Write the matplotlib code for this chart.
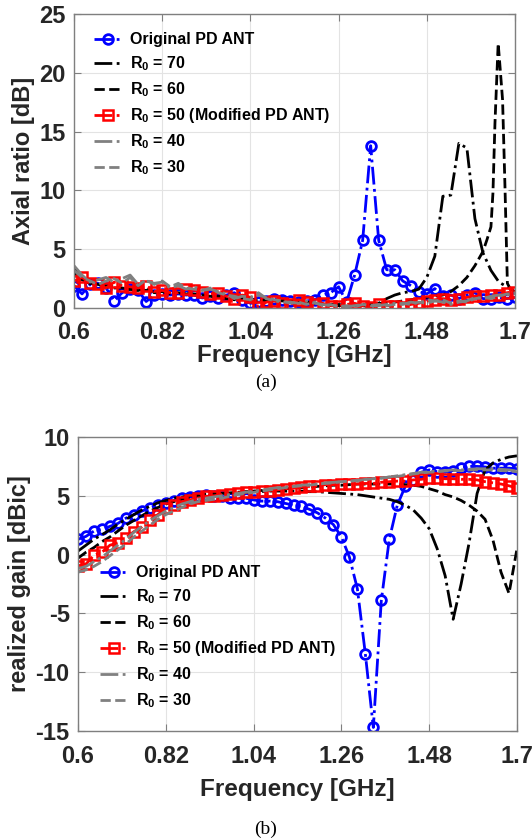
import matplotlib
matplotlib.use("Agg")
import matplotlib.pyplot as plt
import numpy as np

plt.rcParams['font.family'] = 'Liberation Sans'
plt.rcParams['font.weight'] = 'bold'
plt.rcParams['mathtext.fontset'] = 'custom'
plt.rcParams['mathtext.rm'] = 'Liberation Sans:bold'
plt.rcParams['mathtext.bf'] = 'Liberation Sans:bold'
plt.rcParams['axes.unicode_minus'] = False

# frequency grid [GHz], 0.02 GHz step
freq = np.round(np.arange(0.6, 1.701, 0.02), 2)
# R0 = 60 axial ratio has a sharp peak, sampled finer near the top
freq_r60_ar = np.concatenate([np.round(np.arange(0.6, 1.63, 0.02), 2),
                              [1.63, 1.64, 1.645, 1.65, 1.658, 1.662, 1.669, 1.675, 1.681, 1.69, 1.70]])

xticks = [0.6, 0.82, 1.04, 1.26, 1.48, 1.7]
xtick_labels = ['0.6', '0.82', '1.04', '1.26', '1.48', '1.7']

labels = ['Original PD ANT', r'$\mathbf{R_0}$ = 70', r'$\mathbf{R_0}$ = 60',
          r'$\mathbf{R_0}$ = 50 (Modified PD ANT)', r'$\mathbf{R_0}$ = 40', r'$\mathbf{R_0}$ = 30']

# (a) axial ratio [dB]
ar_orig = [1.9, 1.2, 2.0, 2.1, 1.7, 0.6, 1.3, 1.6, 1.5, 0.55,
           1.1, 1.2, 1.1, 1.2, 1.1, 1.1, 0.85, 1.0, 0.85, 1.1,
           1.3, 0.7, 0.4, 0.5, 0.6, 0.8, 0.7, 0.6, 0.5, 0.6,
           0.7, 1.1, 1.3, 1.8, 0.5, 2.8, 5.75, 13.8, 5.75, 3.25,
           3.25, 2.3, 1.9, 1.4, 1.2, 1.65, 1.0, 1.1, 0.8, 1.1,
           1.3, 0.8, 0.8, 0.9, 0.8, 0.9]
ar_r70 = [3.5, 2.4, 2.1, 2.0, 1.9, 1.8, 1.7, 1.6, 1.5, 1.6,
          1.3, 1.4, 1.2, 1.3, 1.2, 1.1, 1.2, 1.0, 0.9, 0.8,
          0.7, 0.8, 0.7, 0.6, 0.7, 0.6, 0.8, 0.6, 0.5, 0.5,
          0.4, 0.4, 0.3, 0.3, 0.2, 0.2, 0.2, 0.1, 0.4, 0.8,
          1.1, 1.3, 1.4, 1.6, 2.6, 4.4, 9.5, 9.6, 14.0, 13.6,
          7.6, 4.7, 3.2, 2.2, 1.8, 1.4]
ar_r60 = [3.0, 2.3, 2.1, 2.0, 1.8, 1.7, 1.7, 1.6, 1.5, 1.5,
          1.4, 1.4, 1.3, 1.3, 1.2, 1.2, 1.1, 1.0, 1.0, 0.9,
          0.8, 0.8, 0.7, 0.7, 0.6, 0.6, 0.6, 0.5, 0.5, 0.4,
          0.4, 0.3, 0.3, 0.2, 0.2, 0.2, 0.3, 0.3, 0.4, 0.4,
          0.5, 0.6, 0.7, 0.8, 0.9, 1.0, 1.1, 1.4, 1.9, 2.6,
          3.6, 4.8,
          5.8, 6.9, 9.8, 15.7, 22.5, 20.8, 17.7, 10.3, 2.1, 1.5, 1.4]
ar_r50 = [2.3, 2.6, 2.1, 2.0, 1.7, 2.2, 1.9, 1.8, 1.7, 1.9,
          1.4, 1.5, 1.3, 1.3, 1.6, 1.5, 1.4, 1.2, 1.3, 1.0,
          0.8, 1.1, 0.9, 0.1, 0.5, 0.6, 0.4, 0.3, 0.7, 0.5,
          0.3, 0.4, 0.2, 0.2, 0.3, 0.4, 0.2, 0.1, 0.3, 0.2,
          0.2, 0.1, 0.3, 0.4, 0.6, 0.7, 0.8, 0.7, 0.8, 0.9,
          1.0, 1.0, 1.1, 1.1, 1.3, 1.4]
ar_r40 = [3.6, 2.8, 2.2, 2.4, 2.6, 2.2, 2.5, 2.8, 2.0, 2.3,
          2.1, 2.2, 1.7, 1.9, 1.6, 1.8, 1.5, 1.6, 1.4, 1.2,
          0.8, 1.0, 0.9, 1.3, 0.8, 0.6, 0.5, 0.5, 0.4, 0.6,
          0.4, 0.3, 0.2, 0.2, 0.1, 0.2, 0.3, 0.2, 0.2, 0.3,
          0.4, 0.3, 0.5, 0.4, 0.7, 0.6, 0.5, 0.3, 0.5, 0.6,
          0.9, 0.8, 1.0, 1.1, 1.1, 1.3]
ar_r30 = [3.2, 2.6, 2.3, 2.0, 2.3, 2.5, 2.1, 2.6, 1.9, 2.4,
          2.0, 2.3, 1.8, 2.1, 1.7, 1.6, 1.5, 1.7, 1.3, 1.1,
          1.0, 0.8, 0.7, 1.1, 0.9, 0.7, 0.6, 0.4, 0.5, 0.3,
          0.5, 0.2, 0.3, 0.1, 0.2, 0.1, 0.3, 0.2, 0.3, 0.2,
          0.3, 0.4, 0.3, 0.5, 0.4, 0.6, 0.7, 0.4, 0.6, 0.5,
          0.8, 0.9, 0.8, 1.0, 1.2, 1.2]

# (b) realized gain [dBic]
g_orig = [1.3, 1.55, 2.0, 2.15, 2.4, 2.65, 3.1, 3.4, 3.7, 3.95,
          4.2, 4.4, 4.6, 4.8, 4.9, 5.0, 5.05, 5.0, 4.95, 4.85,
          4.8, 4.8, 4.65, 4.55, 4.55, 4.5, 4.35, 4.2, 4.1, 3.85,
          3.55, 3.1, 2.55, 1.5, -0.2, -2.9, -8.45, -14.7, -3.9, 1.3,
          4.2, 5.8, 6.35, 7.0, 7.2, 7.05, 7.0, 7.15, 7.4, 7.5,
          7.5, 7.45, 7.35, 7.35, 7.35, 7.3]
g_r70 = [0.3, 0.8, 1.3, 1.7, 2.1, 2.6, 3.0, 3.4, 3.8, 4.1,
         4.4, 4.6, 4.8, 4.9, 5.0, 5.1, 5.15, 5.2, 5.2, 5.25,
         5.3, 5.3, 5.35, 5.35, 5.4, 5.4, 5.4, 5.4, 5.4, 5.35,
         5.35, 5.3, 5.25, 5.2, 5.15, 5.1, 5.0, 4.9, 4.8, 4.7,
         4.5, 4.2, 3.8, 3.1, 2.2, 0.5, -1.8, -5.5, -2.5, 1.0,
         5.2, 7.2, 7.8, 8.1, 8.3, 8.4]
g_r60 = [-0.3, 0.2, 0.6, 1.1, 1.5, 2.0, 2.5, 2.9, 3.3, 3.7,
         4.0, 4.3, 4.5, 4.7, 4.85, 5.0, 5.05, 5.1, 5.2, 5.25,
         5.3, 5.35, 5.4, 5.45, 5.5, 5.55, 5.6, 5.65, 5.7, 5.75,
         5.8, 5.85, 5.9, 5.9, 5.95, 6.0, 6.0, 6.0, 6.0, 6.0,
         6.0, 5.95, 5.9, 5.8, 5.6, 5.4, 5.1, 4.9, 4.6, 4.2,
         3.7, 3.0, 1.2, -1.5, -3.3, 0.5]
g_r50 = [-0.95, -0.8, -0.05, 0.2, 0.8, 1.0, 1.45, 1.95, 2.35, 2.95,
         3.4, 3.95, 4.2, 4.5, 4.65, 4.8, 4.95, 5.0, 5.1, 5.15,
         5.25, 5.3, 5.35, 5.4, 5.45, 5.5, 5.6, 5.65, 5.75, 5.8,
         5.85, 5.95, 5.95, 6.0, 6.0, 6.0, 6.05, 6.05, 6.15, 6.2,
         6.25, 6.25, 6.35, 6.4, 6.5, 6.5, 6.45, 6.45, 6.4, 6.4,
         6.35, 6.2, 6.1, 6.0, 5.85, 5.65]
g_r40 = [-1.2, -1.0, -0.6, -0.2, 0.3, 0.8, 1.3, 1.9, 2.4, 2.9,
         3.3, 3.7, 4.0, 4.3, 4.5, 4.7, 4.8, 4.9, 5.0, 5.1,
         5.2, 5.3, 5.4, 5.5, 5.6, 5.7, 5.75, 5.8, 5.9, 5.95,
         6.0, 6.1, 6.15, 6.2, 6.25, 6.3, 6.4, 6.45, 6.5, 6.6,
         6.7, 6.8, 6.9, 7.0, 7.05, 7.1, 7.15, 7.2, 7.2, 7.25,
         7.3, 7.3, 7.3, 7.25, 7.2, 7.1]
g_r30 = [-1.5, -1.3, -1.0, -0.6, -0.1, 0.4, 0.9, 1.5, 2.0, 2.5,
         3.0, 3.4, 3.7, 4.0, 4.3, 4.5, 4.6, 4.7, 4.8, 4.95,
         5.1, 5.2, 5.3, 5.4, 5.5, 5.6, 5.7, 5.8, 5.85, 5.9,
         6.0, 6.05, 6.1, 6.2, 6.25, 6.3, 6.4, 6.45, 6.5, 6.6,
         6.65, 6.75, 6.85, 6.95, 7.0, 7.05, 7.1, 7.15, 7.15, 7.2,
         7.2, 7.2, 7.2, 7.15, 7.1, 7.05]

GRAY = '#808080'
TICK_COLOR = '#262626'


def draw(ax, curves, ylim, yticks, ylabel, leg_anchor, xpad, xlabelpad):
    (orig, r70, r60, r50, r40, r30), f60 = curves
    ax.plot(freq, orig, '-.', color='blue', lw=2, marker='o', ms=7,
            mfc='none', mew=2, label=labels[0])
    ax.plot(freq, r70, '-.', color='black', lw=2, label=labels[1])
    ax.plot(f60, r60, '--', color='black', lw=2, label=labels[2])
    ax.plot(freq, r50, '-.', color='red', lw=2, marker='s', ms=6.5,
            mfc='none', mew=1.8, label=labels[3])
    ax.plot(freq, r40, '-.', color=GRAY, lw=2, label=labels[4])
    ax.plot(freq, r30, '--', color=GRAY, lw=2, label=labels[5])

    ax.set_xlim(0.6, 1.7)
    ax.set_ylim(*ylim)
    ax.set_xticks(xticks)
    ax.set_xticklabels(xtick_labels)
    ax.set_yticks(yticks)
    ax.grid(True, color='#e3e3e3', lw=0.8)
    ax.set_axisbelow(True)
    ax.tick_params(direction='in', top=True, right=True, length=5,
                   width=0.8, color='#7f7f7f', labelsize=17, labelcolor=TICK_COLOR)
    ax.tick_params(axis='x', pad=xpad)
    ax.tick_params(axis='y', pad=6)
    for s in ax.spines.values():
        s.set_color('#7f7f7f')
        s.set_linewidth(1.0)
    ax.set_xlabel('Frequency [GHz]', fontsize=17.5, fontweight='bold',
                  color=TICK_COLOR, labelpad=xlabelpad)
    ax.set_ylabel(ylabel, fontsize=17, fontweight='bold', color=TICK_COLOR, labelpad=3)
    ax.legend(loc='upper left', bbox_to_anchor=leg_anchor, frameon=False,
              prop={'size': 11.5, 'weight': 'bold'}, handlelength=1.8,
              handletextpad=0.5, labelspacing=0.45, borderaxespad=0)


fig = plt.figure(figsize=(5.32, 8.38), dpi=100)
ax1 = fig.add_axes([74 / 532, 1 - 308 / 838, 441 / 532, 294 / 838])
ax2 = fig.add_axes([78 / 532, 1 - 731 / 838, 439 / 532, 294 / 838])

draw(ax1, ((ar_orig, ar_r70, ar_r60, ar_r50, ar_r40, ar_r30), freq_r60_ar),
     (0, 25), [0, 5, 10, 15, 20, 25], 'Axial ratio [dB]', (0.03, 0.96), 9, 0.5)
draw(ax2, ((g_orig, g_r70, g_r60, g_r50, g_r40, g_r30), freq),
     (-15, 10), [-15, -10, -5, 0, 5, 10], 'realized gain [dBic]', (0.035, 0.585), 10, 7)

fig.text(0.5, 1 - 382 / 838, '(a)', ha='center', va='center',
         family='Liberation Serif', fontweight='normal', fontsize=14)
fig.text(0.5, 1 - 829 / 838, '(b)', ha='center', va='center',
         family='Liberation Serif', fontweight='normal', fontsize=14)

fig.savefig('out.png', dpi=100)
